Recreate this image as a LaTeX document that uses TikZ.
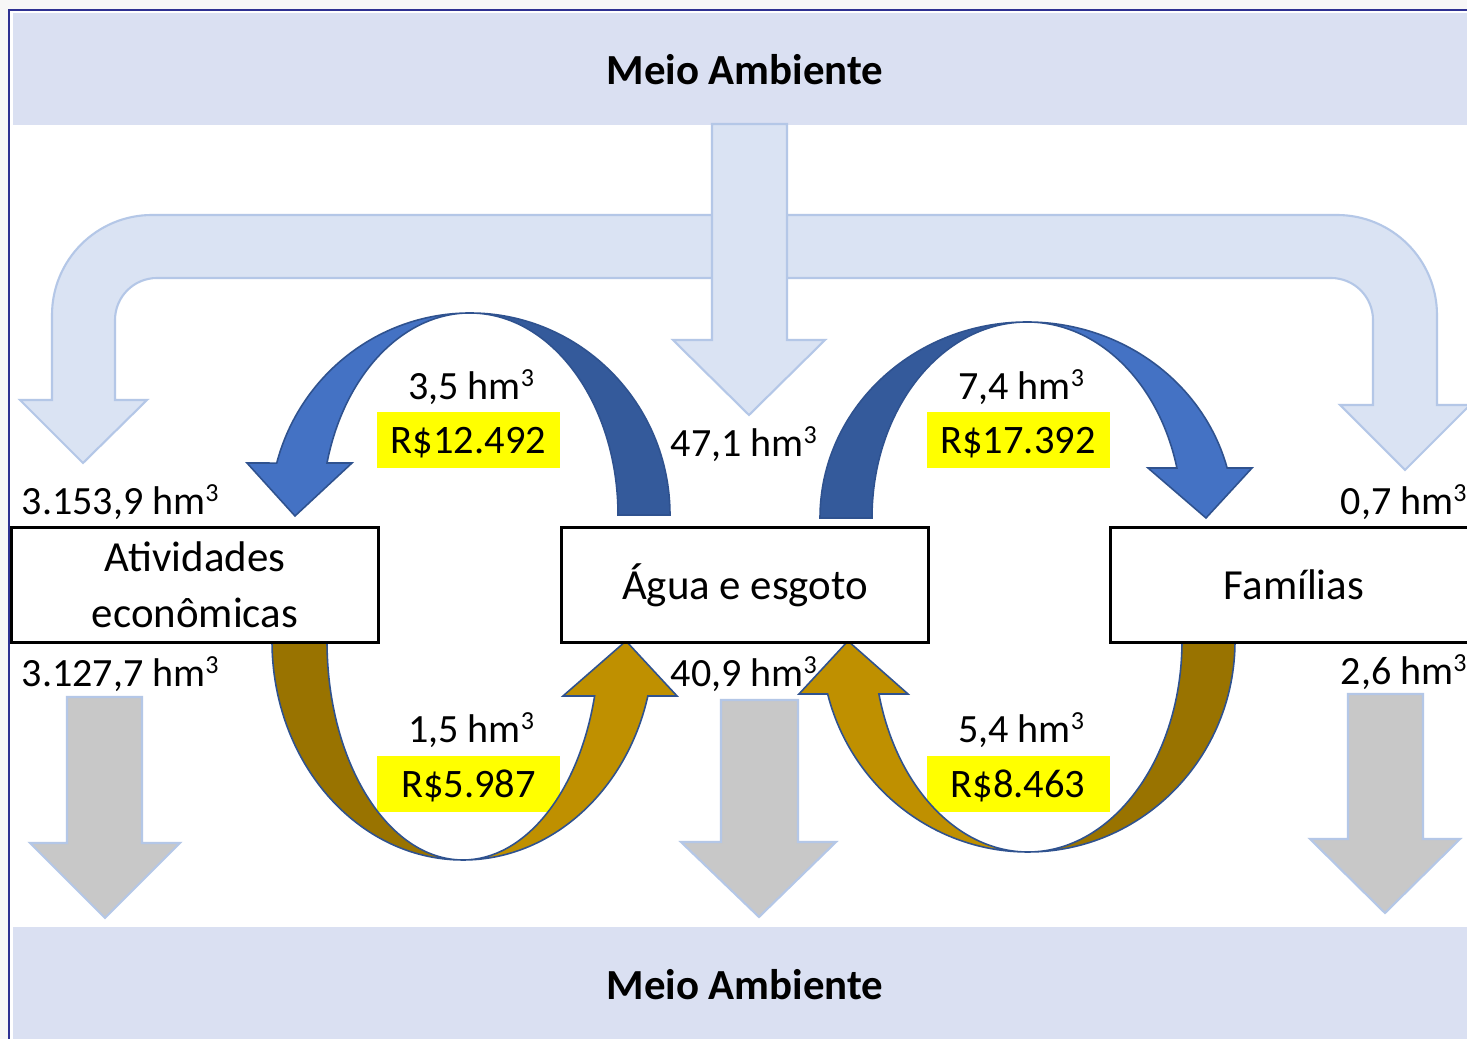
\documentclass[tikz,border=0pt]{standalone}
\usepackage{fontspec}
\setmainfont{Carlito}
\usepackage{xcolor}
\definecolor{vframe}{HTML}{2E3192}
\definecolor{vband}{HTML}{DAE0F2}
\definecolor{vpale}{HTML}{DAE3F3}
\definecolor{vedge}{HTML}{B4C7E7}
\definecolor{vgrey}{HTML}{C8C8C8}
\definecolor{vblue}{HTML}{4472C4}
\definecolor{vbluedark}{HTML}{345A9B}
\definecolor{vgold}{HTML}{BF9000}
\definecolor{vgolddark}{HTML}{997300}
\definecolor{vline}{HTML}{2F528F}
\definecolor{vyellow}{HTML}{FFFF00}
\newcommand{\hmcube}{hm\raisebox{3.7pt}{\fontsize{7.4}{8}\selectfont 3}}

\begin{document}
\begin{tikzpicture}[x=0.1mm, y=-0.1mm,
	paleArrow/.style={fill=vpale, draw=vedge, line width=0.6pt},
	greyArrow/.style={fill=vgrey, draw=vedge, line width=0.6pt},
	bentArrow/.style={draw=vline, line width=0.45pt},
	entity/.style={draw=black, fill=white, line width=0.8pt, minimum width=36.7mm, minimum height=11.45mm, inner sep=0pt, align=center, font=\fontsize{12.2}{15.9}\selectfont},
	flow/.style={font=\fontsize{11.4}{13}\selectfont, inner sep=0pt},
	money/.style={fill=vyellow, minimum width=18.3mm, minimum height=5.65mm, inner sep=0pt, text depth=0pt, font=\fontsize{11.5}{13}\selectfont},
	banner/.style={font=\fontsize{12.2}{14}\selectfont\bfseries}]
	\useasboundingbox (0,0) rectangle (1467,1039);
	\clip (0,0) rectangle (1467,1039);
	\fill[black!3] (0,0) rectangle (1467,1039);
	\draw[vframe, line width=0.6pt, fill=white] (9,10) rectangle (1490,1060);
	% bands
	\fill[vband] (13,13) rectangle (1490,125);
	\fill[vband] (13,927) rectangle (1490,1060);
	\node[banner] (envTop) at (745,70) {Meio Ambiente};
	\node[banner] (envBot) at (745,985) {Meio Ambiente};
	% supply from the environment
	\draw[paleArrow] (83,463) -- (147,400) -- (115,400) -- (115,320) arc[start angle=180, end angle=270, radius=42] -- (1331,278) arc[start angle=270, end angle=360, radius=42] -- (1373,405) -- (1340,405) -- (1405,470) -- (1470,405) -- (1437,405) -- (1437,315) arc[start angle=0, end angle=-90, radius=100] -- (152,215) arc[start angle=270, end angle=180, radius=100] -- (52,400) -- (20,400) -- cycle;
	\draw[paleArrow] (712,124) -- (787,124) -- (787,340) -- (825,340) -- (749,415) -- (673,340) -- (712,340) -- cycle;
	% returns to the environment
	\draw[greyArrow] (67,697) -- (142,697) -- (142,843) -- (180,843) -- (105,918) -- (30,843) -- (67,843) -- cycle;
	\draw[greyArrow] (721,700) -- (798,700) -- (798,842) -- (836,842) -- (759,917) -- (681,842) -- (721,842) -- cycle;
	\draw[greyArrow] (1348,694) -- (1423,694) -- (1423,839) -- (1460,839) -- (1385,913) -- (1310,839) -- (1348,839) -- cycle;
	% prices
	\node[money] (p1) at (468.5,440) {R\$12.492};
	\node[money] (p2) at (1018,440) {R\$17.392};
	\node[money] (p3) at (468.5,784) {R\$5.987};
	\node[money] (p4) at (1018,784) {R\$8.463};
	% agua -> atividades
	\filldraw[bentArrow, fill=vbluedark] (670,515) arc[start angle=0, end angle=-90, x radius=200, y radius=202] arc[start angle=-90, end angle=0, x radius=148, y radius=202] -- cycle;
	\filldraw[bentArrow, fill=vblue] (470,313) arc[start angle=-90, end angle=-165.1, x radius=200, y radius=202] -- (247,463) -- (295,516) -- (352,463) -- (327,463) arc[start angle=-165.1, end angle=-90, x radius=148, y radius=202] -- cycle;
	% agua -> familias
	\filldraw[bentArrow, fill=vbluedark] (820,518) arc[start angle=180, end angle=270, x radius=207, y radius=196] arc[start angle=270, end angle=180, x radius=155, y radius=196] -- cycle;
	\filldraw[bentArrow, fill=vblue] (1027,322) arc[start angle=270, end angle=345.22, x radius=207, y radius=196] -- (1252,468) -- (1206,518) -- (1148,468) -- (1176.9,468) arc[start angle=345.22, end angle=270, x radius=155, y radius=196] -- cycle;
	% atividades -> agua
	\filldraw[bentArrow, fill=vgolddark] (272,641) arc[start angle=180, end angle=90, x radius=191, y radius=219] arc[start angle=90, end angle=180, x radius=136, y radius=219] -- cycle;
	\filldraw[bentArrow, fill=vgold] (463,860) arc[start angle=90, end angle=14.55, x radius=191, y radius=219] -- (677,696) -- (626,641) -- (563,696) -- (594.6,696) arc[start angle=14.55, end angle=90, x radius=136, y radius=219] -- cycle;
	% familias -> agua
	\filldraw[bentArrow, fill=vgolddark] (1235,641) arc[start angle=0, end angle=90, x radius=207, y radius=211] arc[start angle=90, end angle=0, x radius=154, y radius=211] -- cycle;
	\filldraw[bentArrow, fill=vgold] (1028,852) arc[start angle=90, end angle=165.45, x radius=207, y radius=211] -- (799,694) -- (848,641) -- (908,694) -- (878.9,694) arc[start angle=165.45, end angle=90, x radius=154, y radius=211] -- cycle;
	% sectors
	\node[entity] (ativ) at (195,585) {Atividades\\econômicas};
	\node[entity] (agua) at (745,585) {Água e esgoto};
	\node[entity] (fam) at (1294,585) {Famílias};
	% volumes
	\node[flow, anchor=base west] (inAtiv) at (21,515) {3.153,9 \hmcube};
	\node[flow, anchor=base west] (outAtiv) at (21,687) {3.127,7 \hmcube};
	\node[flow, anchor=base west] (inAgua) at (670,457) {47,1 \hmcube};
	\node[flow, anchor=base west] (outAgua) at (670,687) {40,9 \hmcube};
	\node[flow, anchor=base west] (inFam) at (1340,515) {0,7 \hmcube};
	\node[flow, anchor=base west] (outFam) at (1340,685) {2,6 \hmcube};
	\node[flow, anchor=base] (q1) at (471,400) {3,5 \hmcube};
	\node[flow, anchor=base] (q2) at (1021,400) {7,4 \hmcube};
	\node[flow, anchor=base] (q3) at (471,743) {1,5 \hmcube};
	\node[flow, anchor=base] (q4) at (1021,743) {5,4 \hmcube};
\end{tikzpicture}
\end{document}
